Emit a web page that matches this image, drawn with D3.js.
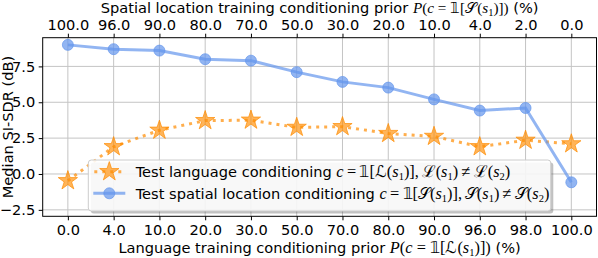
<!DOCTYPE html>
<html>
<head>
<meta charset="utf-8">
<script src="https://cdn.jsdelivr.net/npm/d3@7"></script>
<style>
  body { margin: 0; background: #fff; }
  svg { display: block; font-family: "DejaVu Sans", sans-serif; }
</style>
</head>
<body>
<svg id="chart" width="598" height="258"></svg>
<script>
// tick labels, bottom axis (language prior) and top axis (spatial prior)
const languagePrior = ["0.0", "4.0", "10.0", "20.0", "30.0", "50.0", "70.0", "80.0", "90.0", "96.0", "98.0", "100.0"];
const spatialPrior = ["100.0", "96.0", "90.0", "80.0", "70.0", "50.0", "30.0", "20.0", "10.0", "4.0", "2.0", "0.0"];
// median SI-SDR (dB)
const languageSdr = [-0.47, 1.9, 3.05, 3.72, 3.75, 3.25, 3.3, 2.82, 2.62, 1.9, 2.35, 2.1];
const spatialSdr = [9.0, 8.7, 8.6, 8.0, 7.9, 7.1, 6.42, 6.02, 5.2, 4.42, 4.6, -0.58];
const yTicks = [-2.5, 0, 2.5, 5, 7.5];

let svg = d3.select("#chart");
let margin = { top: 37.7, right: 1.5, bottom: 41.7, left: 42.7 };
let plotWidth = 598 - margin.left - margin.right;
let plotHeight = 258 - margin.top - margin.bottom;
let fontSize = 14.6;

let idx = languagePrior.map((d, i) => i);

let xScale = d3.scaleLinear()
  .domain([-0.55, 11.55])
  .range([0, plotWidth]);

let yScale = d3.scaleLinear()
  .domain([-2.95, 9.5])
  .range([plotHeight, 0]);

let plot = svg.append("g")
  .attr("transform", "translate(" + margin.left + "," + margin.top + ")");

// grid
plot.append("g").selectAll("line.vx")
  .data(idx).enter().append("line")
  .attr("x1", d => xScale(d)).attr("x2", d => xScale(d))
  .attr("y1", 0).attr("y2", plotHeight)
  .attr("stroke", "#c4c4c4").attr("stroke-width", 1);
plot.append("g").selectAll("line.hy")
  .data(yTicks).enter().append("line")
  .attr("y1", d => yScale(d)).attr("y2", d => yScale(d))
  .attr("x1", 0).attr("x2", plotWidth)
  .attr("stroke", "#c4c4c4").attr("stroke-width", 1);

// axes
let fmtY = d => d < 0 ? "\u2212" + Math.abs(d).toFixed(1) : d.toFixed(1);

let xAxis = d3.axisBottom(xScale).tickValues(idx).tickFormat(i => languagePrior[i])
  .tickSize(4).tickPadding(4).tickSizeOuter(0);
let xTopAxis = d3.axisTop(xScale).tickValues(idx).tickFormat(i => spatialPrior[i])
  .tickSize(4).tickPadding(4).tickSizeOuter(0);
let yAxis = d3.axisLeft(yScale).tickValues(yTicks).tickFormat(fmtY)
  .tickSize(4).tickPadding(3.5).tickSizeOuter(0);

let xGroup = plot.append("g").attr("transform", "translate(0," + plotHeight + ")").call(xAxis);
let xTopGroup = plot.append("g").call(xTopAxis);
let yGroup = plot.append("g").call(yAxis);

[xGroup, xTopGroup, yGroup].forEach(g => {
  g.select(".domain").remove();
  g.selectAll("text").attr("font-size", fontSize).attr("font-family", "DejaVu Sans").attr("fill", "#000");
  g.selectAll("line").attr("stroke", "#000").attr("stroke-width", 1);
});

// frame
plot.append("rect")
  .attr("x", 0).attr("y", 0)
  .attr("width", plotWidth).attr("height", plotHeight)
  .attr("fill", "none").attr("stroke", "#000").attr("stroke-width", 1);

// series
let orange = "darkorange";
let blue = "cornflowerblue";
let star = d3.symbol().type(d3.symbolStar).size(115);

let langLine = d3.line().x((d, i) => xScale(i)).y(d => yScale(d));

plot.append("path")
  .datum(languageSdr)
  .attr("d", langLine)
  .attr("fill", "none")
  .attr("stroke", orange)
  .attr("stroke-opacity", 0.7)
  .attr("stroke-width", 3)
  .attr("stroke-dasharray", "3,5");

plot.append("g").selectAll("path")
  .data(languageSdr).enter().append("path")
  .attr("d", star)
  .attr("transform", (d, i) => "translate(" + xScale(i) + "," + yScale(d) + ")")
  .attr("fill", orange).attr("fill-opacity", 0.65)
  .attr("stroke", orange).attr("stroke-opacity", 0.7).attr("stroke-width", 1);

plot.append("path")
  .datum(spatialSdr)
  .attr("d", langLine)
  .attr("fill", "none")
  .attr("stroke", blue)
  .attr("stroke-opacity", 0.7)
  .attr("stroke-width", 3);

plot.append("g").selectAll("circle")
  .data(spatialSdr).enter().append("circle")
  .attr("cx", (d, i) => xScale(i))
  .attr("cy", d => yScale(d))
  .attr("r", 5.5)
  .attr("fill", blue).attr("fill-opacity", 0.7)
  .attr("stroke", blue).attr("stroke-opacity", 0.7).attr("stroke-width", 1);

// text with a bit of math in it
let mathText = function(sel, parts, k) {
  let shift = 0;
  parts.forEach(p => {
    let t = sel.append("tspan").text(p[0]);
    let dy = 0;
    if (p[1] == "sub") {
      dy = 3.5 - shift; shift = 3.5;
      t.attr("font-size", fontSize * 0.72).attr("font-family", "Liberation Serif");
    } else {
      dy = -shift; shift = 0;
      if (p[1] == "i") t.attr("font-family", "Liberation Serif").attr("font-style", "italic").attr("font-size", fontSize * k);
      if (p[1] == "r") t.attr("font-family", "Liberation Serif").attr("font-size", fontSize * k);
    }
    if (dy != 0) t.attr("dy", dy);
  });
};

let prior = function(sym) {
  return [["P", "i"], ["(", "r"], ["c", "i"], ["\u2005=\u2005", "r"], ["\ud835\udfd9", "r"], ["[", "r"],
          [sym, "r"], ["(", "r"], ["s", "i"], ["1", "sub"], [")])", "r"]];
};

let topLabel = svg.append("text")
  .attr("x", margin.left + plotWidth / 2).attr("y", 12.8)
  .attr("text-anchor", "middle").attr("font-size", fontSize);
mathText(topLabel, [["Spatial location training conditioning prior ", "t"]]
  .concat(prior("\ud835\udcae")).concat([[" (%)", "t"]]), 1.04);

let bottomLabel = svg.append("text")
  .attr("x", margin.left + plotWidth / 2).attr("y", 252.5)
  .attr("text-anchor", "middle").attr("font-size", fontSize);
mathText(bottomLabel, [["Language training conditioning prior ", "t"]]
  .concat(prior("\u2112")).concat([[" (%)", "t"]]), 1.12);

svg.append("text")
  .attr("transform", "translate(13," + (margin.top + plotHeight / 2) + ") rotate(-90)")
  .attr("text-anchor", "middle")
  .attr("font-size", fontSize)
  .text("Median SI-SDR (dB)");

// legend
let legend = svg.append("g").attr("transform", "translate(88.3,160)");
let legW = 462.5, legH = 51;
legend.append("rect")
  .attr("x", 2.5).attr("y", 2.5).attr("width", legW).attr("height", legH).attr("rx", 3)
  .attr("fill", "#4d4d4d").attr("fill-opacity", 0.35);
legend.append("rect")
  .attr("width", legW).attr("height", legH).attr("rx", 3)
  .attr("fill", "#fff").attr("fill-opacity", 0.88)
  .attr("stroke", "#cccccc").attr("stroke-width", 1);

let rows = [
  { y: 11.7, name: "Test language conditioning ", sym: "\u2112" },
  { y: 33.3, name: "Test spatial location conditioning ", sym: "\ud835\udcae" }
];

legend.append("line")
  .attr("x1", 6).attr("x2", 37).attr("y1", rows[0].y).attr("y2", rows[0].y)
  .attr("stroke", orange).attr("stroke-opacity", 0.7).attr("stroke-width", 3)
  .attr("stroke-dasharray", "3,5");
legend.append("path")
  .attr("d", star)
  .attr("transform", "translate(21," + rows[0].y + ")")
  .attr("fill", orange).attr("fill-opacity", 0.65)
  .attr("stroke", orange).attr("stroke-opacity", 0.7);
legend.append("line")
  .attr("x1", 5).attr("x2", 37).attr("y1", rows[1].y).attr("y2", rows[1].y)
  .attr("stroke", blue).attr("stroke-opacity", 0.7).attr("stroke-width", 3);
legend.append("circle")
  .attr("cx", 21).attr("cy", rows[1].y).attr("r", 5.5)
  .attr("fill", blue).attr("fill-opacity", 0.7)
  .attr("stroke", blue).attr("stroke-opacity", 0.7);

rows.forEach(r => {
  let t = legend.append("text")
    .attr("x", 47.4).attr("y", r.y + 5.2)
    .attr("font-size", fontSize);
  mathText(t, [[r.name, "t"], ["c", "i"], ["\u2009=\u2009", "r"], ["\ud835\udfd9", "r"], ["[", "r"],
    [r.sym, "r"], ["(", "r"], ["s", "i"], ["1", "sub"], [")],", "r"], ["\u2006", "r"],
    [r.sym, "r"], ["(", "r"], ["s", "i"], ["1", "sub"], [")", "r"], ["\u2009\u2260\u2009", "r"],
    [r.sym, "r"], ["(", "r"], ["s", "i"], ["2", "sub"], [")", "r"]], 1.12);
});
</script>
</body>
</html>
